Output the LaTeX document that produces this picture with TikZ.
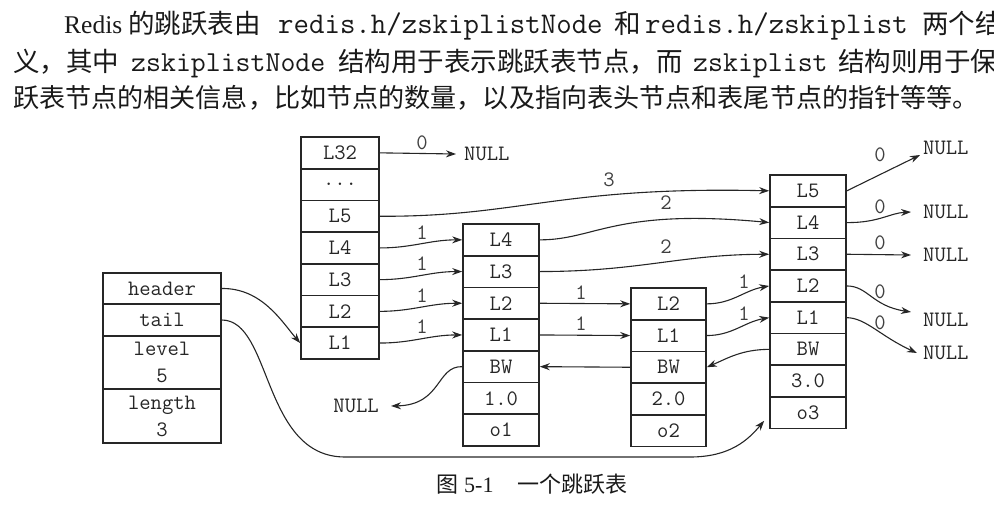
\documentclass[tikz,border=0pt]{standalone}
\usepackage{fontspec}
\setmainfont{Liberation Serif}
\newfontfamily\cjk{Noto Sans CJK SC}
\usetikzlibrary{arrows.meta}
\newcommand{\diagfont}{\fontsize{22}{27}\selectfont\ttfamily}
\newcommand{\topcjk}{\fontsize{26.5}{30}\selectfont\cjk}
\newcommand{\topcjkb}{\fontsize{26.1}{30}\selectfont\cjk}
\newcommand{\topmono}{\fontsize{29}{30}\selectfont\ttfamily}
\newcommand{\topmonob}{\fontsize{30}{30}\selectfont\ttfamily}
\newcommand{\toprm}{\fontsize{25.5}{30}\selectfont\rmfamily}
\newcommand{\capcjk}{\fontsize{22}{24}\selectfont\cjk}
\newcommand{\caprm}{\fontsize{22}{24}\selectfont\rmfamily}
\newcommand{\tdots}{...}
\begin{document}
\begin{tikzpicture}[x=1pt,y=-1pt,
  cell/.style={draw=black!85, line width=1.6pt, minimum height=31.7pt, inner sep=0pt, font=\diagfont, text=black!85},
  lbl/.style={font=\diagfont, text=black!75, inner sep=0pt},
  nul/.style={font=\diagfont, text=black!85, inner sep=0pt},
  arr/.style={line width=1.1pt, draw=black!85, -{Stealth[length=10pt,width=7pt]}},
  txt/.style={anchor=base west, inner sep=0pt, text=black!90},
]
\useasboundingbox (0,0) rectangle (994,514);

% ---------- top paragraph ----------
\begin{scope}
\clip (0,0) rectangle (994,514);
\node[txt, font=\toprm]  (a1) at (64,33)  {Redis};
\node[txt, font=\topcjk] (a2) at (128,34) {的跳跃表由};
\node[txt, font=\topmonob] (a3) at (278,34) {redis.h/zskiplistNode};
\node[txt, font=\topcjk] (a4) at (614,34) {和};
\node[txt, font=\topmonob] (a5) at (645,34) {redis.h/zskiplist};
\node[txt, font=\topcjk] (a6) at (922,34) {两个结};
\node[txt, font=\topcjk] (b1) at (13,71)  {义，其中};
\node[txt, font=\topmono] (b2) at (131,71) {zskiplistNode};
\node[txt, font=\topcjk] (b3) at (338,71) {结构用于表示跳跃表节点，而};
\node[txt, font=\topmono] (b4) at (693,71) {zskiplist};
\node[txt, font=\topcjk] (b5) at (838,71) {结构则用于保};
\node[txt, font=\topcjkb] (c1) at (13,107) {跃表节点的相关信息，比如节点的数量，以及指向表头节点和表尾节点的指针等等。};
\end{scope}

% ---------- zskiplist ----------
\node[cell, minimum width=118pt, minimum height=31pt] (header) at (162,288.5) {header};
\node[cell, minimum width=118pt, minimum height=32pt] (tail) at (162,320) {tail};
\node[cell, minimum width=118pt, minimum height=53pt, align=center] (level) at (162,362.5) {level\\5};
\node[cell, minimum width=118pt, minimum height=54pt, align=center] (length) at (162,416) {length\\3};

% ---------- header node ----------
\foreach \n/\t [count=\i] in {L32/L32, dots/\tdots, L5/L5, L4/L4, L3/L3, L2/L2, L1/L1}
  \node[cell, minimum width=78pt] (h\n) at (340,{137+31.7*\i-15.85}) {\t};

% ---------- node 1 ----------
\foreach \n/\t [count=\i] in {L4/L4, L3/L3, L2/L2, L1/L1, BW/BW, sc/1.0, ob/o1}
  \node[cell, minimum width=76pt] (n1\n) at (501,{224+31.7*\i-15.85}) {\t};

% ---------- node 2 ----------
\foreach \n/\t [count=\i] in {L2/L2, L1/L1, BW/BW, sc/2.0, ob/o2}
  \node[cell, minimum width=75pt] (n2\n) at (668.5,{288+31.7*\i-15.85}) {\t};

% ---------- node 3 ----------
\foreach \n/\t [count=\i] in {L5/L5, L4/L4, L3/L3, L2/L2, L1/L1, BW/BW, sc/3.0, ob/o3}
  \node[cell, minimum width=76pt] (n3\n) at (808,{175+31.7*\i-15.85}) {\t};

% ---------- NULL texts ----------
\node[nul, anchor=west] (nT) at (464,154) {NULL};
\node[nul, anchor=east] (nL) at (379,406) {NULL};
\node[nul, anchor=west] (nR5) at (923,148) {NULL};
\node[nul, anchor=west] (nR4) at (923,212) {NULL};
\node[nul, anchor=west] (nR3) at (923,255) {NULL};
\node[nul, anchor=west] (nR2) at (923,320) {NULL};
\node[nul, anchor=west] (nR1) at (923,353) {NULL};

% ---------- connectors ----------
\draw[arr] (hL32.east) -- ([xshift=-8pt]nT.west);
\draw[arr] (hL5.east) .. controls (520,217) and (560,186) .. (n3L5.west);
\draw[arr] (hL4.east) to[out=0,in=180] (n1L4.west);
\draw[arr] (hL3.east) to[out=0,in=180] (n1L3.west);
\draw[arr] (hL2.east) to[out=0,in=180] (n1L2.west);
\draw[arr] (hL1.east) to[out=0,in=180] (n1L1.west);
\draw[arr] (header.east) .. controls (262,288) and (282,322) .. (hL1.west);
\draw[arr] (tail.east) .. controls (272,320) and (262,457) .. (345,457) -- (690,457)
   .. controls (730,457) and (748,440) .. ([xshift=-5pt,yshift=-8pt]n3ob.west);
\draw[arr] (n1L4.east) .. controls (595,240) and (615,208) .. (n3L4.west);
\draw[arr] (n1L3.east) .. controls (640,271.5) and (680,254.5) .. (n3L3.west);
\draw[arr] (n1L2.east) -- (n2L2.west);
\draw[arr] (n1L1.east) -- (n2L1.west);
\draw[arr] (n2L2.east) to[out=0,in=190] (n3L2.west);
\draw[arr] (n2L1.east) to[out=0,in=190] (n3L1.west);
\draw[arr] (n2BW.west) -- (n1BW.east);
\draw[arr] (n3BW.west) .. controls (742,349.5) and (728,358) .. (n2BW.east);
\draw[arr] (n1BW.west) .. controls (436,366) and (442,405) .. ([xshift=12pt]nL.east);
\draw[arr] (n3L5.east) -- ([xshift=-3pt,yshift=-7pt]nR5.west);
\draw[arr] (n3L4.east) .. controls (878,223) and (890,213) .. ([xshift=-12pt]nR4.west);
\draw[arr] (n3L3.east) -- ([xshift=-12pt]nR3.west);
\draw[arr] (n3L2.east) .. controls (868,286) and (872,306) .. ([xshift=-12pt,yshift=8pt]nR2.west);
\draw[arr] (n3L1.east) .. controls (866,318) and (880,336) .. ([xshift=-6pt]nR1.west);

% ---------- labels ----------
\node[lbl] (l0) at (422,143) {0};
\node[lbl] (l3) at (609,180) {3};
\node[lbl] (lh4) at (422,233) {1};
\node[lbl] (lh3) at (422,264) {1};
\node[lbl] (lh2) at (422,296) {1};
\node[lbl] (lh1) at (422,327) {1};
\node[lbl] (l14) at (666,203) {2};
\node[lbl] (l13) at (666,247) {2};
\node[lbl] (l12) at (581,293) {1};
\node[lbl] (l11) at (581,324) {1};
\node[lbl] (l22) at (744,282) {1};
\node[lbl] (l21) at (744,314) {1};
\node[lbl] (r5) at (880,155) {0};
\node[lbl] (r4) at (880,207) {0};
\node[lbl] (r3) at (880,243) {0};
\node[lbl] (r2) at (880,292) {0};
\node[lbl] (r1) at (880,323) {0};

% ---------- caption ----------
\node[txt, font=\capcjk] (cap1) at (436,492) {图};
\node[txt, font=\caprm] (cap2) at (464,492) {5-1};
\node[txt, font=\capcjk] (cap3) at (517,492) {一个跳跃表};
\end{tikzpicture}
\end{document}
